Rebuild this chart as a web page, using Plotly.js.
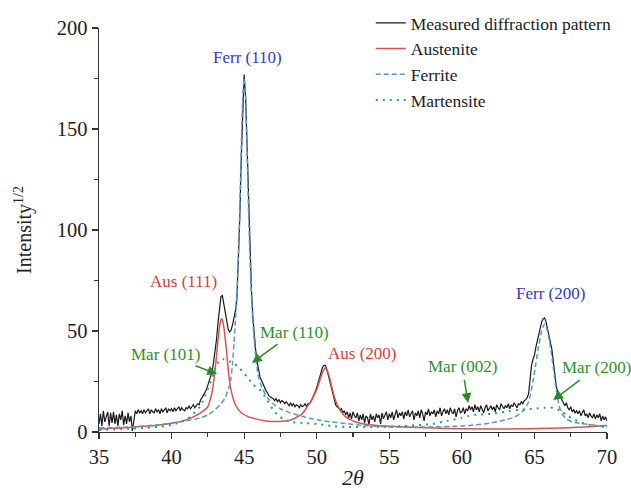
<!DOCTYPE html>
<html>
<head>
<meta charset="utf-8">
<script src="https://cdn.plot.ly/plotly-3.0.1.min.js"></script>
<style>html,body{margin:0;padding:0;background:#fff}#chart{width:631px;height:490px}</style>
</head>
<body>
<div id="chart"></div>
<script>
// ---- Data ----
// Measured diffraction pattern, 2θ from 35.0 to 70.0, step 0.1
const measuredStart = 35.0;
const measuredStep = 0.1;
const measuredY = [
  4, 9, 3, 10.5, 5, 8, 10, 3, 9.5, 4.5,
  10, 4, 8.5, 3, 9, 6, 10.5, 3.5, 8, 4,
  9.5, 5, 8, 0.5, 6, 10.5, 9, 11, 9.5, 10.5,
  9, 11, 9.5, 10.5, 11.5, 9, 11, 10, 9.5, 11.5,
  10, 11, 9, 11.5, 10, 11, 12, 9.5, 11.5, 10.5,
  11.5, 10, 12, 10.5, 11.5, 12.5, 10.5, 12, 11, 10.5,
  12, 11.5, 13, 11.5, 12.5, 13.5, 12, 13, 14, 13.5,
  16, 17, 18, 19.5, 21, 23, 25, 27.5, 30, 35,
  40, 46, 54, 62, 67, 67.5, 63, 58, 54, 51,
  49.5, 50.5, 53, 56, 60, 66, 82, 106, 135, 162,
  177, 166, 142, 114, 90, 71, 57, 47, 40, 34.5,
  30, 27, 25.5, 23.5, 22, 20.5, 19.5, 18, 17.5, 17,
  16.5, 15.5, 16.5, 15, 16, 14.5, 15.5, 15, 14, 15,
  14, 13, 14.5, 13, 14, 12.5, 13.5, 13, 12, 13.5,
  12.5, 13, 14, 12.5, 14, 14, 15, 16.5, 18, 20,
  22, 24.5, 27.5, 30, 32, 33, 33, 31, 28, 24.5,
  21, 18, 15.5, 13.5, 12.5, 12, 11, 11.5, 9.5, 10.5,
  8.5, 10, 7, 9.5, 6.5, 10, 8, 7, 9.5, 5.5,
  8.5, 6, 9, 4.5, 8, 7, 3.5, 9, 6, 8,
  5, 9, 7, 8.5, 4, 9.5, 6.5, 8, 10, 6,
  9, 7, 10, 6, 8.5, 11, 7, 9.5, 8, 10,
  6.5, 10, 8, 11, 7.5, 9, 10.5, 6, 9.5, 8,
  10.5, 7, 11, 9, 5.5, 10, 8.5, 11.5, 8, 10,
  9, 11, 7.5, 10.5, 9, 12, 8, 10, 11.5, 9,
  11, 8.5, 12, 10, 9, 11.5, 7.5, 10.5, 12, 9.5,
  10, 12, 9, 11.5, 10.5, 13, 11, 12.5, 10, 13.5,
  11, 12.5, 10, 13, 11.5, 9.5, 12, 13.5, 10.5, 12,
  13, 11, 12.5, 10, 13.5, 12, 11, 14, 12.5, 11.5,
  13, 12, 14, 11.5, 13.5, 12.5, 14.5, 13, 12, 14,
  13.5, 15, 14, 15.5, 16, 17, 19, 26, 33, 36,
  38, 42, 45, 48, 52, 54.5, 56, 56.5, 54.5, 51,
  46.5, 44, 41, 35, 28, 23, 20, 18.5, 17, 15.5,
  14.5, 13, 14.5, 12, 11, 12.5, 10, 11, 9.5, 10.5,
  9, 10.5, 8, 9.5, 11, 8, 9, 7, 9.5, 8,
  7, 9, 6.5, 8.5, 7, 9, 5.5, 8, 6, 7.5,
  5.5
];
const measuredX = measuredY.map((v, i) => +(measuredStart + i * measuredStep).toFixed(1));

// Austenite fitted profile
const austeniteX = [35, 36, 37, 38, 39, 40, 41, 41.5, 42, 42.5, 42.7, 42.8, 42.9, 43, 43.1, 43.2, 43.3, 43.4, 43.45, 43.5, 43.6, 43.7, 43.8, 43.9, 44, 44.15, 44.4, 44.8, 45.3, 45.8, 46.5, 47.3, 48, 48.5, 49, 49.3, 49.66, 50, 50.23, 50.4, 50.58, 50.75, 50.9, 51.1, 51.3, 51.6, 52, 52.5, 53, 54, 55, 57, 60, 63, 66, 68, 70];
const austeniteY = [1.5, 1.8, 2.2, 2.7, 3.3, 4.3, 6, 7.5, 9.5, 12.5, 17, 20, 25, 31, 38, 46, 52, 55.5, 56, 55.5, 52, 46, 39, 31, 25, 19, 13.5, 9.5, 7.5, 6.5, 5.5, 5.2, 5.6, 6.8, 9, 12, 16, 21, 26, 29.5, 31.7, 30, 26.5, 20.5, 15.5, 11, 7.5, 5.5, 4.3, 3.3, 2.8, 2.2, 1.6, 1.5, 1.8, 2.3, 3.2];

// Ferrite fitted profile
const ferriteX = [35, 37, 39, 40, 41, 42, 42.5, 43, 43.4, 43.7, 43.85, 44, 44.1, 44.2, 44.3, 44.4, 44.5, 44.6, 44.7, 44.8, 44.9, 45, 45.1, 45.2, 45.3, 45.4, 45.5, 45.6, 45.7, 45.8, 45.9, 46, 46.15, 46.3, 46.6, 47, 47.5, 48.2, 49, 49.5, 50.2, 51, 52, 53, 55, 58, 60, 61, 62, 63, 63.5, 64, 64.3, 64.6, 64.9, 65.1, 65.3, 65.5, 65.7, 65.9, 66.1, 66.3, 66.5, 66.7, 66.9, 67.2, 67.6, 68, 68.5, 69, 69.5, 70];
const ferriteY = [2, 2.5, 3.5, 4.5, 5.5, 7, 8.5, 11, 14, 17, 20, 23, 27, 34, 44, 55, 68, 86, 110, 140, 165, 175, 165, 140, 110, 86, 68, 55, 45, 37, 31, 27, 23.5, 21, 17, 14, 11.5, 9.4, 7.8, 6.8, 5.8, 5, 4.2, 3.4, 2.5, 2.5, 3, 3.5, 4.5, 6, 7, 9, 11, 15, 25, 34, 43, 50, 53.5, 50, 42, 32, 21, 13, 9, 6.5, 5, 4.5, 4, 3.5, 3, 2.5];

// Martensite fitted profile
const martensiteX = [35, 37, 39, 40, 41, 41.5, 42, 42.3, 42.6, 43, 43.3, 43.6, 44, 44.3, 44.7, 45, 45.3, 45.6, 46, 46.3, 46.6, 47, 47.3, 47.7, 48.2, 49, 50, 51, 52, 54, 56, 58, 59, 60, 60.5, 61, 62, 63, 64, 65, 65.7, 66.3, 66.8, 67.3, 67.8, 68.5, 69.3, 70];
const martensiteY = [1, 1.5, 2.5, 3.5, 6, 9, 13, 18, 23, 31, 35.5, 36, 35, 34, 31.5, 29, 26.5, 23.5, 21.5, 19, 15.5, 11, 8.5, 6.5, 5, 4.5, 4, 3, 2.5, 2.5, 3, 4, 5.5, 7, 8, 8.5, 9, 10, 11, 11.5, 12, 12, 10.5, 8, 6, 4, 3, 2.5];

const seriesNames = ['Measured diffraction pattern', 'Austenite', 'Ferrite', 'Martensite'];
const xTicks = [35, 40, 45, 50, 55, 60, 65, 70];
const yTicks = [0, 50, 100, 150, 200];

// ---- Styling ----
const FONT = 'Liberation Serif, Times New Roman, serif';
const BLUE_TXT = '#3a3ab4', RED_TXT = '#d33f3f', GREEN_TXT = '#2f8f2f';

const traces = [
  {x: measuredX, y: measuredY, name: seriesNames[0], mode: 'lines', line: {color: '#1a1a1a', width: 1.2}},
  {x: austeniteX, y: austeniteY, name: seriesNames[1], mode: 'lines', line: {color: '#d9534f', width: 1.5, shape: 'spline', smoothing: 0.6}},
  {x: ferriteX, y: ferriteY, name: seriesNames[2], mode: 'lines', line: {color: '#5b95d0', width: 1.5, dash: '5px,3px', shape: 'spline', smoothing: 0.6}},
  {x: martensiteX, y: martensiteY, name: seriesNames[3], mode: 'lines', line: {color: '#2e9e78', width: 2, dash: '2px,5px', shape: 'spline', smoothing: 0.6}}
];

function label(text, x, y, color) {
  return {text: text, x: x, y: y, xref: 'x', yref: 'y', showarrow: false,
          font: {family: FONT, size: 17, color: color}, xanchor: 'center', yanchor: 'middle'};
}
// label with an arrow: (tx, ty) = arrow tip, (lx, ly) = label centre
function arrowLabel(text, tx, ty, lx, ly) {
  return {text: text, x: tx, y: ty, ax: lx, ay: ly, xref: 'x', yref: 'y', axref: 'x', ayref: 'y',
          font: {family: FONT, size: 17, color: GREEN_TXT}, showarrow: true, standoff: 0, startstandoff: 2,
          arrowhead: 2, arrowsize: 1.3, arrowwidth: 1.5, arrowcolor: '#2a8a2a'};
}

const layout = {
  width: 631, height: 490,
  margin: {l: 99, r: 24, t: 28, b: 58, autoexpand: false},
  paper_bgcolor: '#fff', plot_bgcolor: '#fff',
  font: {family: FONT, color: '#222'},
  showlegend: true,
  legend: {x: 0.535, y: 0.99, xref: 'paper', yref: 'container', xanchor: 'left', yanchor: 'top', bgcolor: 'rgba(0,0,0,0)',
           font: {family: FONT, size: 17.5, color: '#222'}, tracegroupgap: 0},
  xaxis: {range: [35, 70], tickvals: xTicks, ticks: 'outside', ticklen: 6, tickwidth: 1.2, tickcolor: '#333',
          showline: true, linecolor: '#333', linewidth: 1.3, showgrid: false, zeroline: false,
          minor: {dtick: 2.5, ticks: 'outside', ticklen: 4, tickwidth: 1.2, tickcolor: '#333', showgrid: false},
          tickfont: {family: FONT, size: 20.5, color: '#222'},
          title: {text: '<i>2θ</i>', font: {family: FONT, size: 22, color: '#222'}, standoff: 6}, automargin: false},
  yaxis: {range: [0, 200], tickvals: yTicks, ticks: 'outside', ticklen: 6, tickwidth: 1.2, tickcolor: '#333',
          showline: true, linecolor: '#333', linewidth: 1.3, showgrid: false, zeroline: false,
          minor: {dtick: 25, ticks: 'outside', ticklen: 4, tickwidth: 1.2, tickcolor: '#333', showgrid: false},
          tickfont: {family: FONT, size: 20.5, color: '#222'},
          title: {text: 'Intensity<sup>1/2</sup>', font: {family: FONT, size: 20, color: '#222'}, standoff: 19}, automargin: false},
  annotations: [
    label('Ferr (110)', 45.2, 185.6, BLUE_TXT),
    label('Aus (111)', 40.79, 74.3, RED_TXT),
    label('Aus (200)', 53.13, 39.1, RED_TXT),
    label('Ferr (200)', 66.08, 68.8, BLUE_TXT),
    arrowLabel('Mar (101)', 43.13, 28.7, 39.55, 38.6),
    arrowLabel('Mar (110)', 45.54, 34.2, 48.44, 49.5),
    arrowLabel('Mar (002)', 60.43, 14.4, 60.02, 32.2),
    arrowLabel('Mar (200)', 66.29, 15.8, 69.25, 31.7)
  ]
};

Plotly.newPlot('chart', traces, layout, {displayModeBar: false, staticPlot: true});
</script>
</body>
</html>
